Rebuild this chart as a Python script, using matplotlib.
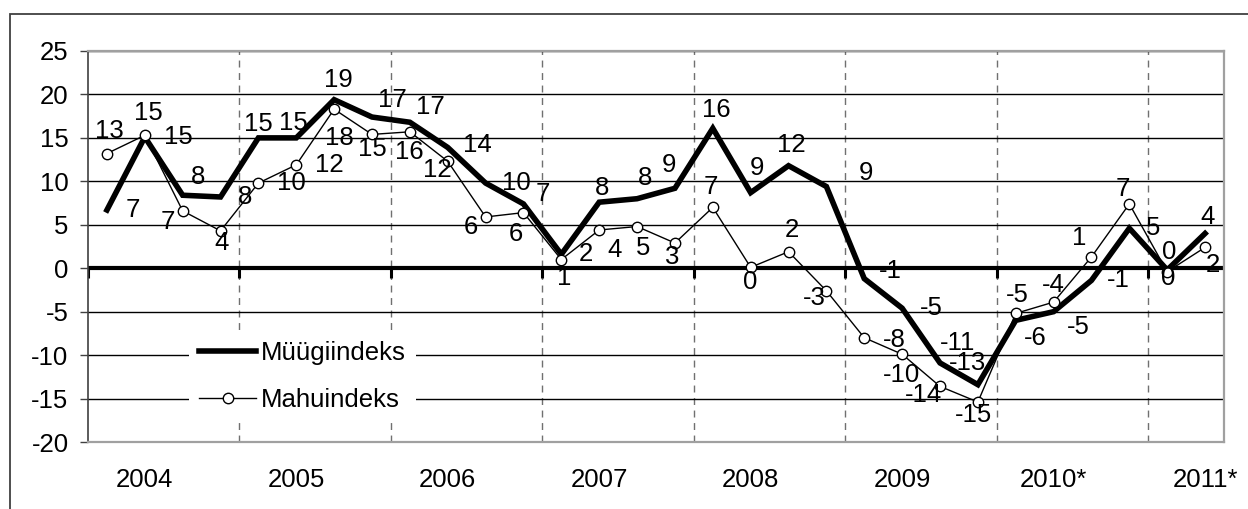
import matplotlib.pyplot as plt
from matplotlib.patches import Rectangle

plt.rcParams['font.family'] = ['Liberation Sans', 'DejaVu Sans']
plt.rcParams['axes.unicode_minus'] = False

# quarterly index values, 2004 Q1 .. 2011 Q2
years = ["2004", "2005", "2006", "2007", "2008", "2009", "2010*", "2011*"]
quarters_per_year = [4, 4, 4, 4, 4, 4, 4, 2]

muugi = [6.7, 15.1, 8.4, 8.2, 15.0, 15.0, 19.4, 17.4,
         16.8, 13.9, 9.8, 7.4, 1.6, 7.6, 8.0, 9.2,
         16.1, 8.7, 11.8, 9.4, -1.2, -4.6, -10.9, -13.4,
         -6.0, -5.0, -1.4, 4.6, -0.2, 4.0]
mahu = [13.2, 15.3, 6.6, 4.3, 9.8, 11.9, 18.3, 15.4,
        15.7, 12.3, 5.9, 6.4, 1.0, 4.4, 4.8, 2.9,
        7.0, 0.1, 1.9, -2.6, -8.0, -9.9, -13.6, -15.4,
        -5.2, -3.9, 1.3, 7.4, -0.4, 2.4]

# data label offsets in pixels (right, down)
muugi_off = [(26, 0), (34, 0), (15, -18), (25, 0), (0, -14), (-3, -15), (4, -20), (20, -17),
             (21, -15), (30, -2), (31, 0), (19, -10), (25, 0), (3, -14), (8, -21), (-6, -23),
             (4, -18), (6, -25), (3, -21), (40, -14), (26, -8), (29, 0), (18, -20), (-10, -22),
             (20, 18), (25, 15), (27, 0), (24, 0), (2, -18), (2, -16)]
mahu_off = [(2, -23), (4, -22), (-15, 11), (1, 12), (33, 0), (33, 0), (5, 29), (0, 15),
            (-1, 20), (-10, 9), (-15, 10), (-8, 21), (3, 18), (15, 20), (6, 21), (-3, 14),
            (-2, -20), (0, 15), (3, -22), (-12, 7), (30, 2), (-1, 21), (-16, 9), (-4, 13),
            (2, -18), (0, -17), (-12, -19), (-7, -15), (1, 6), (8, 18)]

n = len(muugi)
x = list(range(n))
fs = 18.5

fig = plt.figure(figsize=(12.48, 5.09), dpi=100)
fig.add_artist(Rectangle((9.5 / 1248, -0.1), 1.2, 1.1 - 14 / 509, transform=fig.transFigure,
                         fill=False, edgecolor='#404040', lw=1.3, clip_on=False))
ax = fig.add_axes([88 / 1248, 1 - 442 / 509, (1224 - 88) / 1248, (442 - 51) / 509])

ax.set_xlim(-0.5, n - 0.5)
ax.set_ylim(-20, 25)
ax.set_yticks(range(-20, 26, 5))
ax.tick_params(axis='y', direction='out', length=6, width=1, color='#404040',
               labelsize=fs, pad=8)

# year boundaries and label positions
starts = [sum(quarters_per_year[:i]) for i in range(len(years))]
bounds = [s - 0.5 for s in starts]
ax.set_xticks(bounds[1:])
ax.set_xticklabels([])
ax.set_xticks([s + 1 for s in starts], minor=True)
ax.set_xticklabels(years, minor=True)
ax.tick_params(axis='x', which='both', length=0, labelsize=fs)
ax.tick_params(axis='x', which='minor', pad=19)

ax.grid(axis='x', which='major', color='#707070', ls=(0, (5, 4)), lw=1)
ax.grid(axis='y', color='black', lw=1)
ax.set_axisbelow(True)

for side in ['top', 'right', 'bottom']:
    ax.spines[side].set_color('#a0a0a0')
    ax.spines[side].set_linewidth(1.6)
ax.spines['left'].set_color('#404040')
ax.spines['left'].set_linewidth(1.2)

# category axis at zero with crossing ticks
ax.axhline(0, color='black', lw=3, zorder=2)
ax.vlines(bounds, -1.1, 0, color='black', lw=2.2, zorder=2)

ax.plot(x, muugi, color='black', lw=4, solid_joinstyle='miter', zorder=3, label='Müügiindeks')
ax.plot(x, mahu, color='black', lw=1, marker='o', ms=7.5, mfc='white', mec='black', mew=1,
        zorder=4, label='Mahuindeks')

for xi, v, (dx, dy) in zip(x, muugi, muugi_off):
    ax.annotate(f"{round(v)}", (xi, v), xytext=(dx, -dy), textcoords='offset pixels',
                ha='center', va='center', fontsize=fs, zorder=5)
for xi, v, (dx, dy) in zip(x, mahu, mahu_off):
    ax.annotate(f"{round(v)}", (xi, v), xytext=(dx, -dy), textcoords='offset pixels',
                ha='center', va='center', fontsize=fs, zorder=5)

leg = ax.legend(loc='center', bbox_to_anchor=(0.189, 0.168), fontsize=fs, frameon=True,
                fancybox=False, framealpha=1, facecolor='white', edgecolor='none',
                handlelength=2.2, handletextpad=0.2, labelspacing=0.9, borderpad=0.4)
leg.set_zorder(6)

fig.savefig('out.png', dpi=100)
